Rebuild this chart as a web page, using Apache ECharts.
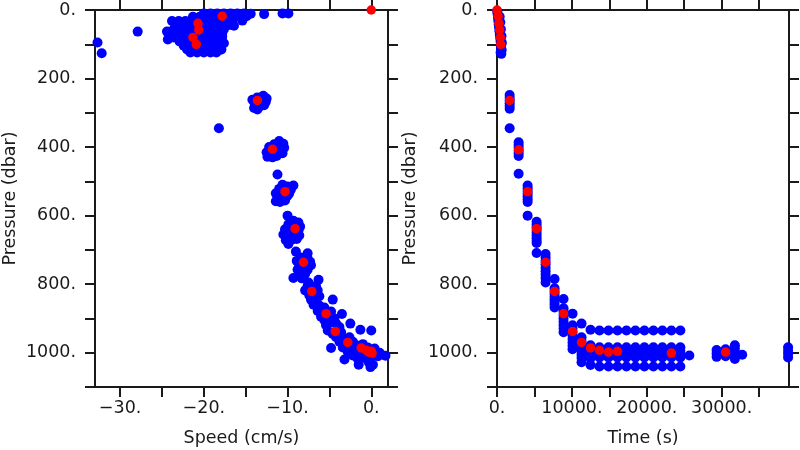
<!DOCTYPE html>
<html>
<head>
<meta charset="utf-8">
<script src="https://cdn.jsdelivr.net/npm/echarts@6/dist/echarts.min.js"></script>
<style>html,body{margin:0;padding:0;background:#fff}#c{width:800px;height:450px}</style>
</head>
<body>
<div id="c"></div>
<script>
// ---- tick values / labels ----
const speedTicks = [-30, -25, -20, -15, -10, -5, 0];
const speedLabels = [-30, -20, -10, 0];
const timeTicks = [0, 5000, 10000, 15000, 20000, 25000, 30000, 35000];
const timeLabels = [0, 10000, 20000, 30000];
const pressureLabels = [0, 200, 400, 600, 800, 1000];

// ---- left panel: speed (cm/s) vs pressure (dbar), raw samples ----
const speedBlue = [
  [-20,10],[-19.2,10],[-18.4,10],[-17.6,10],[-16.8,10],[-16,10],[-15.2,10],[-14.4,11],[-12.8,12],[-10.6,10],[-9.9,10],
  [-21.3,20],[-20.5,20],[-19.7,20],[-18.9,20],[-18.1,20],[-17.3,20],[-16.5,20],[-15.7,20],[-14.9,18],
  [-23.8,32],[-23,32],[-22.2,32],[-21.4,32],[-20.6,32],[-19.8,32],[-19,32],[-18.2,32],[-17.4,32],[-16.6,32],[-15.4,31],
  [-23.4,44],[-22.6,44],[-21.8,44],[-21,44],[-20.2,44],[-19.4,44],[-18.6,44],[-17.8,44],[-17,44],[-16.4,46],
  [-23.6,56],[-22.8,56],[-22,56],[-21.2,56],[-20.4,56],[-19.6,56],[-18.8,56],[-18,56],[-17.6,56],
  [-24.4,63],[-27.9,63],
  [-23.2,68],[-22.4,68],[-21.6,68],[-20.8,68],[-20,68],[-19.2,68],[-18.4,68],[-17.8,68],
  [-23.6,80],[-22.8,80],[-22,80],[-21.2,80],[-20.4,80],[-19.6,80],[-18.8,80],[-18,80],[-17.8,78],
  [-24.3,86],
  [-22.9,92],[-22.1,92],[-21.3,92],[-20.5,92],[-19.7,92],[-18.9,92],[-18.1,92],[-17.6,97],
  [-22.4,104],[-21.6,104],[-20.8,104],[-20,104],[-19.2,104],[-18.4,104],
  [-22,115],[-21.2,115],[-20.4,115],[-19.6,115],[-18.8,115],[-18,115],[-17.9,115],
  [-21.6,124],[-20.8,124],[-20,124],[-19.2,124],[-18.5,124],
  [-32.7,95],[-32.2,126],[-18.2,345],
  [-14.2,262],[-13.6,255],[-12.9,250],[-12.5,258],[-13.9,275],[-13.2,270],[-12.6,268],[-14.0,286],[-13.4,283],[-12.8,278],[-13.6,290],
  [-11.0,382],[-10.5,390],[-11.6,392],[-10.9,397],[-10.4,402],[-12.2,400],[-11.5,405],[-10.8,410],[-12.5,415],[-11.9,418],[-11.2,420],[-10.6,418],[-12.4,428],[-11.8,430],[-11.3,426],[-11.2,480],
  [-10.6,510],[-9.3,512],[-10.0,515],[-11.0,522],[-10.3,520],[-9.6,524],[-11.4,535],[-10.8,532],[-9.8,535],[-11.2,548],[-10.6,545],[-10.0,542],[-11.4,558],[-10.9,560],[-10.3,556],[-10.0,600],
  [-9.3,615],[-8.7,620],[-9.9,625],[-8.5,632],[-10.3,640],[-9.7,645],[-8.7,645],[-10.5,655],[-9.9,660],[-9.2,655],[-8.6,658],[-10.2,672],[-9.5,670],[-8.9,668],[-9.9,683],
  [-9.0,705],[-7.6,710],[-9.3,782],
  [-8.4,722],[-7.6,725],[-8.9,732],[-7.3,735],[-8.6,745],[-7.9,748],[-7.2,745],[-8.8,758],[-8.2,760],[-7.6,758],[-8.5,772],[-7.9,770],[-8.3,783],
  [-7.5,795],[-6.3,787],[-7.6,805],[-6.6,805],[-7.9,818],[-6.4,818],[-7.4,832],[-6.8,830],[-6.2,835],[-7.2,845],[-6.6,848],[-6.9,860],
  [-4.6,845],[-3.5,887],[-2.5,915],
  [-6.2,862],[-5.6,868],[-6.4,878],[-4.8,880],[-6.0,895],[-5.0,895],[-4.4,900],[-5.6,905],[-4.9,912],[-4.2,915],[-5.4,920],[-3.8,925],
  [-1.3,933],[0,935],[-4.8,986],[-3.2,1020],[-1.5,1035],[-0.1,1042],[1.7,1009],
  [-5.2,935],[-4.6,945],[-3.6,940],[-4.2,955],[-3.4,958],[-2.6,955],[-3.8,968],[-3.0,975],[-2.2,968],[-3.4,985],[-2.5,985],[-1.8,978],[-1.0,975],
  [-2.8,998],[-2.0,995],[-1.2,992],[-0.4,985],[0.4,988],[-2.2,1008],[-1.4,1005],[-0.6,1003],[0.3,1002],[1.0,1000],
  [-1.6,1018],[-0.8,1015],[0.0,1015],[0.8,1010],[-0.3,1028],[0.2,1035]
];
// ---- left panel: averaged points ----
const speedRed = [
  [0,0],[-17.8,18],[-20.7,39],[-20.6,58],[-21.3,80],[-20.9,100],[-13.6,264],[-11.8,406],[-10.3,530],[-9.1,638],
  [-8.1,736],[-7.1,821],[-5.4,886],[-4.3,938],[-2.8,970],[-1.2,986],[-0.6,993],[-0.3,998],[0,996],[0.1,1001],[-0.2,998]
];

// ---- right panel: time (s) vs pressure (dbar) ----
const descentBlue = [
  [30,4],[80,12],[130,22],[180,32],[230,42],[280,52],[330,62],[380,72],[430,82],[480,92],[520,102],[540,112],
  [560,120],[580,128],[480,124],[620,116],[650,96],[600,76],[520,56],[440,36],[360,20]
];
const timeColumns = [1690, 2890, 4090, 5290, 6490, 7690, 8890, 10090, 11290, 12490,
  13690, 14890, 16090, 17290, 18490, 19690, 20890, 22090, 23290, 24490, 25690,
  29330, 30530, 31770, 32750, 38880];
const columnPressures = [
  [248,256,264,272,280,288,345],
  [386,394,402,410,418,426,478],
  [512,520,528,536,544,552,560,600],
  [618,626,634,642,650,658,666,674,680,709],
  [712,722,732,742,752,762,772,782,795],
  [785,812,820,828,836,844,852,860,868],
  [843,870,880,890,900,910,920,930,940],
  [886,920,930,940,950,960,970,980,990],
  [915,955,965,975,985,995,1005,1015,1028],
  [933,978,988,998,1008,1016,1036],
  [935,984,994,1004,1014,1040],
  [935,984,994,1004,1014,1040],
  [935,984,994,1004,1014,1040],
  [935,984,994,1004,1014,1040],
  [935,984,994,1004,1014,1040],
  [935,984,994,1004,1014,1040],
  [935,984,994,1004,1014,1040],
  [935,984,994,1004,1014,1040],
  [935,984,994,1004,1014,1040],
  [935,984,994,1004,1014,1040],
  [1008],
  [992,1002,1012],
  [990,1000,1010],
  [978,988,998,1008,1018],
  [1006],
  [984,994,1004,1014]
];
const timeRed = [
  [0,0],[150,18],[260,39],[360,58],[440,80],[500,100],
  [1690,264],[2890,408],[4090,530],[5290,638],[6490,736],[7690,821],[8890,886],[10090,938],[11290,970],
  [12490,986],[13690,993],[14890,998],[16090,996],[23290,1001],[30530,998]
];

const timeBlue = descentBlue.slice();
timeColumns.forEach((t, i) => columnPressures[i].forEach(p => timeBlue.push([t, p])));

function fmtNum(v) { return (v < 0 ? '\u2212' + Math.abs(v) : String(v)) + '.'; }

const FONT = 'DejaVu Sans';
const INK = '#1a1a1a';
const lineStyle = { color: INK, width: 2 };
const textStyle = { fontFamily: FONT, fontSize: 17.5, color: INK };

function xAx(grid, min, max, ticks, labels, name, pos) {
  const main = pos === 'bottom';
  return {
    type: 'value', gridIndex: grid, position: pos, min: min, max: max,
    splitLine: { show: false },
    axisLine: { show: true, onZero: false, lineStyle: lineStyle },
    axisTick: { show: true, inside: false, length: 10, lineStyle: lineStyle, customValues: ticks },
    axisLabel: { show: main, margin: 12, customValues: labels, formatter: fmtNum, fontFamily: FONT, fontSize: 17.5, color: INK },
    name: main ? name : '', nameLocation: 'middle', nameGap: 42, nameTextStyle: textStyle
  };
}
function yAx(grid, pos, name, gap) {
  const main = pos === 'left';
  return {
    type: 'value', gridIndex: grid, position: pos, min: 0, max: 1100, interval: 100, inverse: true,
    splitLine: { show: false },
    axisLine: { show: true, onZero: false, lineStyle: lineStyle },
    axisTick: { show: true, inside: false, length: 10, lineStyle: lineStyle },
    axisLabel: { show: main, margin: 19, customValues: pressureLabels, formatter: fmtNum, fontFamily: FONT, fontSize: 17.5, color: INK },
    name: main ? name : '', nameLocation: 'middle', nameGap: gap, nameRotate: 90, nameTextStyle: textStyle
  };
}

const blueStyle = { color: '#0000ff', opacity: 1 };
const redStyle = { color: '#ff0000', opacity: 1 };

const chart = echarts.init(document.getElementById('c'), null, { renderer: 'canvas' });
chart.setOption({
  animation: false,
  backgroundColor: '#fff',
  grid: [
    { left: 95, top: 10, width: 293, height: 377, containLabel: false, outerBoundsMode: 'none' },
    { left: 497, top: 10, width: 292, height: 377, containLabel: false, outerBoundsMode: 'none' }
  ],
  xAxis: [
    xAx(0, -33, 2, speedTicks, speedLabels, 'Speed (cm/s)', 'bottom'),
    xAx(0, -33, 2, speedTicks, speedLabels, '', 'top'),
    xAx(1, 0, 39000, timeTicks, timeLabels, 'Time (s)', 'bottom'),
    xAx(1, 0, 39000, timeTicks, timeLabels, '', 'top')
  ],
  yAxis: [
    yAx(0, 'left', 'Pressure (dbar)', 76),
    yAx(0, 'right', '', 0),
    yAx(1, 'left', 'Pressure (dbar)', 78),
    yAx(1, 'right', '', 0)
  ],
  series: [
    { type: 'scatter', xAxisIndex: 0, yAxisIndex: 0, data: speedBlue, symbolSize: 10, itemStyle: blueStyle, clip: true },
    { type: 'scatter', xAxisIndex: 0, yAxisIndex: 0, data: speedRed, symbolSize: 9.5, itemStyle: redStyle, clip: true },
    { type: 'scatter', xAxisIndex: 2, yAxisIndex: 2, data: timeBlue, symbolSize: 10, itemStyle: blueStyle, clip: true },
    { type: 'scatter', xAxisIndex: 2, yAxisIndex: 2, data: timeRed, symbolSize: 9.5, itemStyle: redStyle, clip: true }
  ]
});
</script>
</body>
</html>
